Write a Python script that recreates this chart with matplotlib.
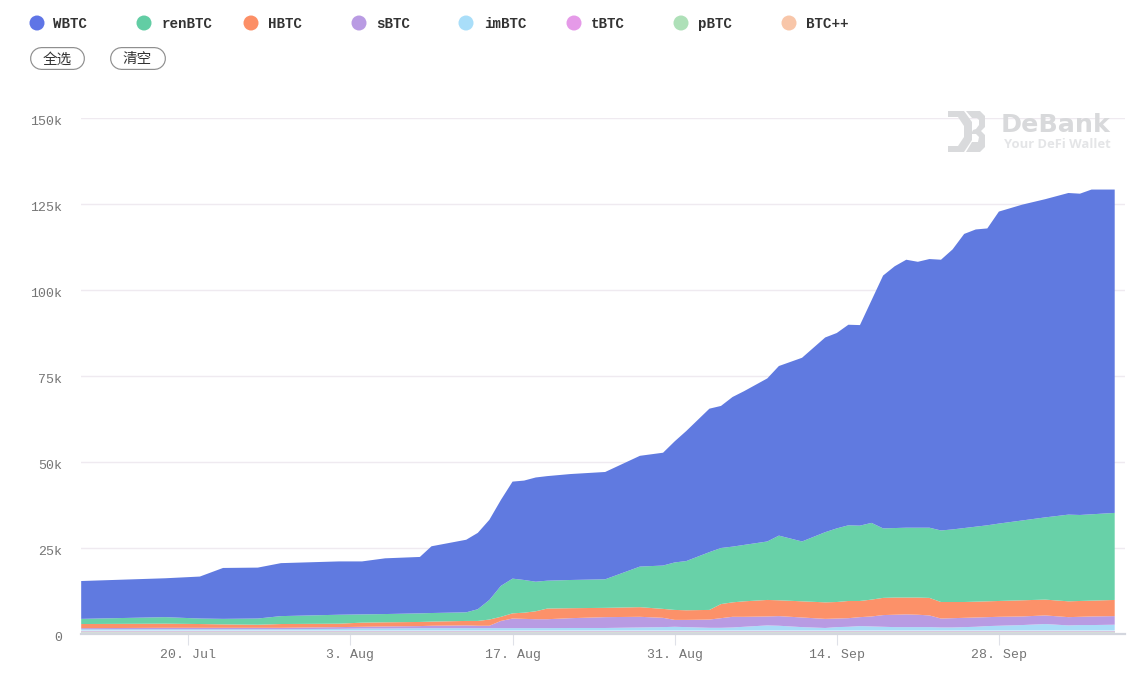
import matplotlib
matplotlib.use("Agg")
import matplotlib.pyplot as plt
from matplotlib.patches import Circle, Polygon
from matplotlib.transforms import ScaledTranslation

days = [-9.25, -2, 1, 3, 6, 8, 13, 15, 17, 20, 21, 24, 25, 26, 27, 28, 29, 30, 31, 33, 36, 39, 41, 42, 43, 45, 46, 47,
        48, 50, 51, 53, 55, 56, 57, 58, 59, 60, 61, 62, 63, 64, 65, 66, 67, 68, 69, 70, 72, 74, 76, 77, 78, 80]
WBTC = [11.0, 11.3, 12.2, 14.8, 14.8, 15.4, 15.5, 15.4, 16.2, 16.4, 19.4, 21.1, 22.2, 23.3, 25.0, 28.2, 28.9, 30.3,
        30.4, 30.8, 31.2, 32.2, 32.8, 35.2, 37.8, 41.7, 41.3, 43.5, 44.7, 47.4, 49.3, 53.4, 56.6, 56.8, 58.3, 58.3,
        64.7, 73.5, 76.1, 77.9, 77.3, 78.1, 78.7, 81.4, 85.5, 86.4, 86.3, 90.7, 91.8, 92.5, 93.5, 93.4, 94.4, 94.0]
renBTC = [1.5, 1.9, 1.6, 1.6, 1.8, 2.3, 2.6, 2.4, 2.4, 2.5, 2.5, 2.5, 3.4, 5.7, 9.0, 10.1, 9.5, 8.6,
          8.1, 8.2, 8.3, 11.8, 12.6, 13.8, 14.3, 16.8, 16.3, 16.2, 16.4, 17.0, 18.8, 17.4, 20.4, 21.4, 22.0, 21.9,
          22.3, 20.2, 20.2, 20.3, 20.3, 20.4, 20.8, 21.1, 21.5, 21.8, 22.1, 22.5, 23.2, 23.9, 25.2, 25.0, 25.1, 25.3]
HBTC = [1.2, 1.2, 1.1, 1.0, 0.9, 1.1, 1.0, 1.2, 1.2, 1.2, 1.2, 1.3, 1.4, 1.8, 1.2, 1.5, 1.8, 2.3,
        3.1, 2.9, 2.7, 2.8, 2.6, 2.9, 2.8, 2.8, 4.1, 4.2, 4.5, 4.8, 4.6, 4.7, 4.8, 4.8, 5.0, 4.7,
        4.9, 5.0, 5.0, 4.9, 5.0, 5.1, 4.8, 4.7, 4.6, 4.6, 4.6, 4.6, 4.7, 4.6, 4.6, 4.6, 4.6, 4.7]
sBTC = [0.3, 0.4, 0.4, 0.4, 0.4, 0.4, 0.5, 0.5, 0.6, 0.6, 0.7, 0.8, 0.7, 0.7, 2.1, 2.8, 2.7, 2.6,
        2.6, 2.85, 3.15, 3.1, 2.7, 2.0, 2.1, 2.4, 2.8, 3.1, 2.9, 2.6, 2.8, 2.8, 2.65, 2.5, 2.5, 2.6,
        2.9, 3.4, 3.6, 3.7, 3.6, 3.4, 2.6, 2.7, 2.7, 2.7, 2.6, 2.6, 2.5, 2.5, 2.4, 2.4, 2.5, 2.5]
imBTC = [0.4, 0.4, 0.4, 0.4, 0.4, 0.4, 0.5, 0.6, 0.6, 0.7, 0.7, 0.7, 0.7, 0.7, 0.7, 0.7, 0.7, 0.7,
         0.7, 0.75, 0.75, 0.9, 1.0, 1.1, 1.0, 0.8, 0.8, 0.9, 1.1, 1.5, 1.4, 1.0, 0.75, 1.0, 1.1, 1.3,
         1.2, 1.1, 1.0, 1.0, 1.0, 1.0, 0.9, 0.9, 1.0, 1.1, 1.3, 1.4, 1.6, 1.9, 1.5, 1.6, 1.6, 1.7]
tBTC = [0.4, 0.4, 0.4, 0.4, 0.4, 0.4, 0.4, 0.4, 0.4, 0.4, 0.4, 0.4, 0.4, 0.4, 0.4, 0.4, 0.4, 0.4,
        0.4, 0.4, 0.4, 0.4, 0.4, 0.4, 0.4, 0.4, 0.4, 0.4, 0.4, 0.4, 0.4, 0.4, 0.4, 0.4, 0.4, 0.4,
        0.4, 0.4, 0.4, 0.4, 0.4, 0.4, 0.4, 0.4, 0.4, 0.4, 0.4, 0.4, 0.4, 0.4, 0.4, 0.4, 0.4, 0.4]
pBTC = [0.3, 0.3, 0.3, 0.3, 0.3, 0.3, 0.3, 0.3, 0.3, 0.3, 0.3, 0.3, 0.3, 0.3, 0.3, 0.3, 0.3, 0.3,
        0.3, 0.3, 0.3, 0.3, 0.3, 0.3, 0.3, 0.3, 0.3, 0.3, 0.3, 0.3, 0.3, 0.3, 0.3, 0.3, 0.3, 0.3,
        0.3, 0.3, 0.3, 0.3, 0.3, 0.3, 0.3, 0.3, 0.3, 0.3, 0.3, 0.3, 0.3, 0.3, 0.3, 0.3, 0.3, 0.3]
BTCpp = [0.3, 0.3, 0.3, 0.3, 0.3, 0.3, 0.3, 0.3, 0.3, 0.3, 0.3, 0.3, 0.3, 0.3, 0.3, 0.3, 0.3, 0.3,
         0.3, 0.3, 0.3, 0.3, 0.3, 0.3, 0.3, 0.3, 0.3, 0.3, 0.3, 0.3, 0.3, 0.3, 0.3, 0.3, 0.3, 0.3,
         0.3, 0.3, 0.3, 0.3, 0.3, 0.3, 0.3, 0.3, 0.3, 0.3, 0.3, 0.3, 0.3, 0.3, 0.3, 0.3, 0.3, 0.3]

names = ["WBTC", "renBTC", "HBTC", "sBTC", "imBTC", "tBTC", "pBTC", "BTC++"]
legend_colors = ["#5f75e6", "#62cda4", "#fc8f66", "#b99be3", "#a9def9", "#e59ae8", "#aee0b8", "#f8c6a9"]
area_colors = ["#607ae0", "#68d1a8", "#fc9169", "#b89be3", "#a9dcf8", "#d9c6de", "#d5dfd8", "#dcdcdc"]
x_ticks = [0, 14, 28, 42, 56, 70]
x_labels = ["20. Jul", "3. Aug", "17. Aug", "31. Aug", "14. Sep", "28. Sep"]
y_ticks = [0, 25, 50, 75, 100, 125, 150]
y_labels = ["0", "25k", "50k", "75k", "100k", "125k", "150k"]

W, H = 1131, 684
MONO = "Liberation Mono"
fig = plt.figure(figsize=(W / 100, H / 100), dpi=100, facecolor="white")

L, R, T, B = 81, 1125, 118, 634
ax = fig.add_axes([L / W, 1 - B / H, (R - L) / W, (B - T) / H])
ax.stackplot(days, BTCpp, pBTC, tBTC, imBTC, sBTC, HBTC, renBTC, WBTC,
             colors=area_colors[::-1], linewidth=0, zorder=2)
ax.set_xlim((L - 188.3) / 11.58, (R - 188.3) / 11.58)
ax.set_ylim(0, 150)
ax.set_yticks(y_ticks, y_labels)
ax.set_xticks(x_ticks, x_labels)
ax.grid(axis="y", color="#efeaf0", lw=1, zorder=1)
ax.set_axisbelow(True)
for s in ["top", "left", "right"]:
    ax.spines[s].set_visible(False)
ax.spines["bottom"].set_color("#d3d6de")
ax.spines["bottom"].set_linewidth(1.6)
ax.spines["bottom"].set_zorder(5)
ax.tick_params(axis="y", length=0, pad=13.5, labelsize=9.5, labelcolor="#757575")
ax.tick_params(axis="x", length=8, width=0.8, color="#dfe1e8", pad=2.5, labelsize=9.5, labelcolor="#757575")
for lab in ax.get_xticklabels() + ax.get_yticklabels():
    lab.set_fontfamily(MONO)
for lab in ax.get_yticklabels():
    lab.set_transform(lab.get_transform() + ScaledTranslation(0, -2 / 72, fig.dpi_scale_trans))

ov = fig.add_axes([0, 0, 1, 1], facecolor="none")
ov.set_xlim(0, W)
ov.set_ylim(H, 0)
ov.axis("off")

marker_x = [37, 144, 251, 359, 466, 574, 681, 789]
text_x = [53, 162, 268, 376, 484, 591, 698, 806]
for mx, tx, n, c in zip(marker_x, text_x, names, legend_colors):
    ov.add_patch(Circle((mx, 23), 7.5, fc=c, ec="none"))
    ov.text(tx, 28, n, family=MONO, fontsize=10.2, color="#333333", va="baseline", ha="left", weight="bold")

for x0, x1, t in [(29.5, 84.5, "全选"), (109.5, 165.5, "清空")]:
    ov.plot([x0 + 11.5, x1 - 11.5], [57.5, 57.5], lw=23 * 0.72, color="#8f8f8f", solid_capstyle="round")
    ov.plot([x0 + 11.5, x1 - 11.5], [57.5, 57.5], lw=20.6 * 0.72, color="white", solid_capstyle="round")
    ov.text((x0 + x1) / 2, 59.5, t, family="Noto Sans CJK SC", fontsize=10.5, color="#333333",
            va="center", ha="center", weight="medium")

logo_color = "#d9dadc"
ov.add_patch(Polygon([(948, 111), (964, 111), (972, 122), (972, 140), (964, 152), (948, 152), (948, 146), (958, 146),
                      (964, 137), (964, 126), (958, 117), (948, 117)], fc=logo_color, ec="none"))
ov.add_patch(Polygon([(966, 111), (980, 111), (985, 116), (985, 127), (981, 131), (985, 135), (985, 147), (980, 152),
                      (966, 152), (972, 142), (978, 142), (979, 137), (976, 134), (971, 134), (973, 130), (976, 129),
                      (979, 125), (979, 120), (977, 118), (972, 118)], fc=logo_color, ec="none"))
ov.text(1001, 125, "DeBank", family="DejaVu Sans", fontsize=18.3, weight="bold", color="#d8d9db", va="center", ha="left")
ov.text(1004, 145, "Your DeFi Wallet", family="Open Sans", fontsize=9.4, weight="bold", color="#e4e5e7",
        va="center", ha="left")

fig.savefig("out.png", dpi=100, facecolor="white")
